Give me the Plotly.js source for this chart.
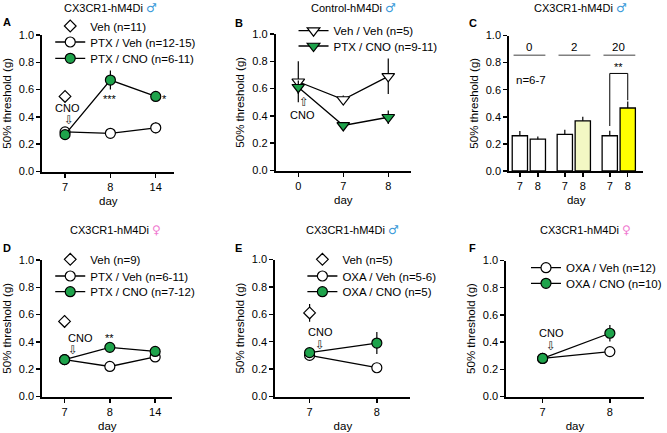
<!DOCTYPE html>
<html>
<head>
<meta charset="utf-8">
<script src="https://cdn.plot.ly/plotly-3.0.1.min.js"></script>
<style>html,body{margin:0;padding:0;background:#fff;}#chart{width:667px;height:433px;}</style>
</head>
<body>
<div id="chart"></div>
<script>
// ---------------- data ----------------
const daysA = ['7', '8', '14'];
const vehA = [0.55];            const vehAErr = [0.03];
const ptxVehA = [0.29, 0.28, 0.32]; const ptxVehAErr = [0.02, 0.02, 0.04];
const ptxCnoA = [0.27, 0.67, 0.55]; const ptxCnoAErr = [0.02, 0.07, 0.02];

const daysB = ['0', '7', '8'];
const vehVehB = [0.65, 0.52, 0.69]; const vehVehBErr = [0.15, 0.03, 0.13];
const ptxCnoB = [0.61, 0.33, 0.39]; const ptxCnoBErr = [0.05, 0.02, 0.05];

const dosesC = ['0', '2', '20'];
const daysC = ['7', '8'];
const day7C = [0.26, 0.27, 0.26];   const day7CErr = [0.035, 0.035, 0.037];
const day8C = [0.235, 0.37, 0.465]; const day8CErr = [0.02, 0.03, 0.047];

const daysD = ['7', '8', '14'];
const vehD = [0.55];            const vehDErr = [0.045];
const ptxVehD = [0.27, 0.22, 0.29]; const ptxVehDErr = [0.02, 0.02, 0.02];
const ptxCnoD = [0.27, 0.36, 0.33]; const ptxCnoDErr = [0.02, 0.025, 0.02];

const daysE = ['7', '8'];
const vehE = [0.61];            const vehEErr = [0.065];
const oxaVehE = [0.30, 0.21];   const oxaVehEErr = [0.03, 0.02];
const oxaCnoE = [0.32, 0.39];   const oxaCnoEErr = [0.03, 0.08];

const daysF = ['7', '8'];
const oxaVehF = [0.28, 0.33];   const oxaVehFErr = [0.02, 0.02];
const oxaCnoF = [0.28, 0.465];  const oxaCnoFErr = [0.02, 0.06];

const yTicks = [0, 0.2, 0.4, 0.6, 0.8, 1.0];

// ---------------- style ----------------
const W = 667, H = 433;
const FONT = 'Liberation Sans, Arial, DejaVu Sans, sans-serif';
const SYMFONT = 'DejaVu Sans';
const GREEN = '#1ea34b';
const MALE = '<span style="color:#3a9ad9;font-family:DejaVu Sans;font-size:12px">\u2642</span>';
const FEMALE = '<span style="color:#f07ad0;font-family:DejaVu Sans;font-size:12px">\u2640</span>';

function xd(l, r) { return [l / W, r / W]; }
function yd(t, b) { return [1 - b / H, 1 - t / H]; }

function errY(arr) {
  return {type: 'data', array: arr, visible: true, color: '#000', thickness: 1.2, width: 0};
}

function pt(x, y, err, name, symbol, fill, xa, ya, leg, mode, size) {
  return {
    type: 'scatter', mode: mode, x: x, y: y, name: name,
    xaxis: xa, yaxis: ya, legend: leg, showlegend: true,
    error_y: errY(err),
    line: {color: '#000', width: 1.3},
    marker: {symbol: symbol, size: size, color: fill, line: {color: '#000', width: 1.2}},
    cliponaxis: false
  };
}

const traces = [];
// A
traces.push(pt(daysA.slice(0, 1), vehA, vehAErr, 'Veh (n=11)', 'diamond', '#fff', 'x', 'y', 'legend', 'markers', 9));
traces.push(pt(daysA, ptxVehA, ptxVehAErr, 'PTX / Veh (n=12-15)', 'circle', '#fff', 'x', 'y', 'legend2', 'lines+markers', 10));
traces.push(pt(daysA, ptxCnoA, ptxCnoAErr, 'PTX / CNO (n=6-11)', 'circle', GREEN, 'x', 'y', 'legend3', 'lines+markers', 10));
// B
traces.push(pt(daysB, vehVehB, vehVehBErr, 'Veh / Veh (n=5)', 'triangle-down', '#fff', 'x2', 'y2', 'legend4', 'lines+markers', 11));
traces.push(pt(daysB, ptxCnoB, ptxCnoBErr, 'PTX / CNO (n=9-11)', 'triangle-down', GREEN, 'x2', 'y2', 'legend5', 'lines+markers', 11));
// C bars
const posC7 = dosesC.map((d, g) => g * 2.5);
const posC8 = dosesC.map((d, g) => g * 2.5 + 1);
const zerosC = dosesC.map(() => 0);
traces.push({
  type: 'bar', x: posC7, y: day7C, xaxis: 'x3', yaxis: 'y3', width: 0.85, showlegend: false,
  name: 'day ' + daysC[0],
  marker: {color: ['#ffffff', '#ffffff', '#ffffff'], line: {color: '#000', width: 1.3}},
  error_y: {type: 'data', array: day7CErr, arrayminus: zerosC, symmetric: false, visible: true, color: '#000', thickness: 1.2, width: 0}
});
traces.push({
  type: 'bar', x: posC8, y: day8C, xaxis: 'x3', yaxis: 'y3', width: 0.85, showlegend: false,
  name: 'day ' + daysC[1],
  marker: {color: ['#ffffff', '#f3f8c4', '#ffff00'], line: {color: '#000', width: 1.3}},
  error_y: {type: 'data', array: day8CErr, arrayminus: zerosC, symmetric: false, visible: true, color: '#000', thickness: 1.2, width: 0}
});
// D
traces.push(pt(daysD.slice(0, 1), vehD, vehDErr, 'Veh (n=9)', 'diamond', '#fff', 'x4', 'y4', 'legend6', 'markers', 9));
traces.push(pt(daysD, ptxVehD, ptxVehDErr, 'PTX / Veh (n=6-11)', 'circle', '#fff', 'x4', 'y4', 'legend7', 'lines+markers', 10));
traces.push(pt(daysD, ptxCnoD, ptxCnoDErr, 'PTX / CNO (n=7-12)', 'circle', GREEN, 'x4', 'y4', 'legend8', 'lines+markers', 10));
// E
traces.push(pt(daysE.slice(0, 1), vehE, vehEErr, 'Veh (n=5)', 'diamond', '#fff', 'x5', 'y5', 'legend9', 'markers', 9));
traces.push(pt(daysE, oxaVehE, oxaVehEErr, 'OXA / Veh (n=5-6)', 'circle', '#fff', 'x5', 'y5', 'legend10', 'lines+markers', 10));
traces.push(pt(daysE, oxaCnoE, oxaCnoEErr, 'OXA / CNO (n=5)', 'circle', GREEN, 'x5', 'y5', 'legend11', 'lines+markers', 10));
// F
traces.push(pt(daysF, oxaVehF, oxaVehFErr, 'OXA / Veh (n=12)', 'circle', '#fff', 'x6', 'y6', 'legend12', 'lines+markers', 10));
traces.push(pt(daysF, oxaCnoF, oxaCnoFErr, 'OXA / CNO (n=10)', 'circle', GREEN, 'x6', 'y6', 'legend13', 'lines+markers', 10));

// ---------------- axes ----------------
function baseAxis() {
  return {
    showline: true, linecolor: '#000', linewidth: 2, mirror: false,
    ticks: 'outside', ticklen: 4, tickwidth: 1.5, tickcolor: '#000',
    showgrid: false, zeroline: false, fixedrange: true,
    tickfont: {family: FONT, size: 11, color: '#000'}
  };
}
function yAxis(dom, anchor) {
  return Object.assign(baseAxis(), {
    domain: dom, anchor: anchor, range: [0, 1], tickvals: yTicks, tickformat: '.1f',
    title: {text: '50% threshold (g)', font: {family: FONT, size: 11.5, color: '#000'}, standoff: 5}
  });
}
function xCat(dom, anchor, range) {
  return Object.assign(baseAxis(), {
    domain: dom, anchor: anchor, type: 'category', range: range,
    title: {text: 'day', font: {family: FONT, size: 11.5, color: '#000'}, standoff: 5}
  });
}

const layout = {
  width: W, height: H, margin: {l: 0, r: 0, t: 0, b: 0},
  paper_bgcolor: '#fff', plot_bgcolor: 'rgba(0,0,0,0)',
  font: {family: FONT, size: 11, color: '#000'},
  showlegend: true, bargap: 0,
  xaxis: xCat(xd(43, 177), 'y', [-0.5, 2.41]),
  yaxis: yAxis(yd(35, 171.5), 'x'),
  xaxis2: xCat(xd(280, 417), 'y2', [-0.5, 2.5]),
  yaxis2: yAxis(yd(34, 170.5), 'x2'),
  xaxis3: Object.assign(baseAxis(), {
    domain: xd(517, 653), anchor: 'y3', range: [-0.59, 6.86],
    tickvals: posC7.map((p, i) => [p, posC8[i]]).flat(),
    ticktext: dosesC.map(() => daysC).flat(),
    title: {text: 'day', font: {family: FONT, size: 11.5, color: '#000'}, standoff: 5}
  }),
  yaxis3: yAxis(yd(35.5, 171), 'x3'),
  xaxis4: xCat(xd(43, 175), 'y4', [-0.49, 2.38]),
  yaxis4: yAxis(yd(260, 396.5), 'x4'),
  xaxis5: xCat(xd(279.5, 416.7), 'y5', [-0.51, 1.5]),
  yaxis5: yAxis(yd(259.5, 396.5), 'x5'),
  xaxis6: xCat(xd(514, 653.3), 'y6', [-0.54, 1.5]),
  yaxis6: yAxis(yd(260.5, 396.5), 'x6'),
  annotations: [],
  shapes: []
};

// legends (one per entry so spacing matches)
function legendAt(lpx, cy) {
  return {x: lpx / W, y: 1 - cy / H, xanchor: 'left', yanchor: 'middle',
    bgcolor: 'rgba(0,0,0,0)', borderwidth: 0, itemwidth: 30, tracegroupgap: 0,
    font: {family: FONT, size: 11.5, color: '#000'}};
}
const legPos = [[51, 26], [51, 42], [51, 58.3], [298, 30.7], [298, 46],
  [51, 259.3], [51, 276], [51, 291.7], [307, 259.3], [307, 276], [307, 291.7],
  [534, 267.7], [534, 283.3]];
legPos.forEach((p, i) => { layout[i === 0 ? 'legend' : 'legend' + (i + 1)] = legendAt(p[0], p[1]); });

// panel titles and letters
function paperText(text, xpx, ypx, size, bold, anchor) {
  return {xref: 'paper', yref: 'paper', x: xpx / W, y: 1 - ypx / H, text: bold ? '<b>' + text + '</b>' : text,
    showarrow: false, xanchor: anchor || 'center', yanchor: 'middle',
    font: {family: FONT, size: size, color: '#000'}};
}
layout.annotations.push(
  paperText('CX3CR1-hM4Di ' + MALE, 112.5, 7.5, 11),
  paperText('Control-hM4Di ' + MALE, 359, 7.5, 11),
  paperText('CX3CR1-hM4Di ' + MALE, 589, 7.5, 11),
  paperText('CX3CR1-hM4Di ' + FEMALE, 117.5, 230, 11),
  paperText('CX3CR1-hM4Di ' + MALE, 358, 230, 11),
  paperText('CX3CR1-hM4Di ' + FEMALE, 594, 230, 11),
  paperText('A', 1, 22, 11, true, 'left'),
  paperText('B', 237, 23, 11, true, 'left'),
  paperText('C', 474, 23, 11, true, 'left'),
  paperText('D', 1, 248.5, 11, true, 'left'),
  paperText('E', 237, 248.5, 11, true, 'left'),
  paperText('F', 474, 248.5, 11, true, 'left')
);

function dataText(text, xa, ya, x, y, size, anchor, fam, color) {
  return {xref: xa, yref: ya, x: x, y: y, text: text, showarrow: false,
    xanchor: anchor || 'center', yanchor: 'middle', font: {family: fam || FONT, size: size || 11, color: color || '#000'}};
}
// CNO markers
const DOWN = '\u21e9', UP = '\u21e7';
layout.annotations.push(
  dataText('CNO', 'x', 'y', 0.05, 0.465, 11), dataText(DOWN, 'x', 'y', 0.09, 0.375, 12, null, SYMFONT, '#222'),
  dataText(UP, 'x2', 'y2', 0.12, 0.50, 12, null, SYMFONT, '#222'), dataText('CNO', 'x2', 'y2', 0.1, 0.41, 11),
  dataText('CNO', 'x4', 'y4', 0.35, 0.43, 11), dataText(DOWN, 'x4', 'y4', 0.18, 0.34, 12, null, SYMFONT, '#222'),
  dataText('CNO', 'x5', 'y5', 0.16, 0.472, 11), dataText(DOWN, 'x5', 'y5', 0.16, 0.375, 12, null, SYMFONT, '#222'),
  dataText('CNO', 'x6', 'y6', 0.13, 0.47, 11), dataText(DOWN, 'x6', 'y6', 0.12, 0.375, 12, null, SYMFONT, '#222')
);
// significance
layout.annotations.push(
  dataText('***', 'x', 'y', 1, 0.53, 11),
  dataText('*', 'x', 'y', 2.19, 0.53, 11),
  dataText('**', 'x4', 'y4', 1, 0.425, 11),
  dataText('**', 'x3', 'y3', (posC7[2] + posC8[2]) / 2, 0.765, 11)
);
// panel C decorations
layout.annotations.push(dataText('CNO dose (nmol, i.t.)', 'x3', 'y3', 3.0, 1.058, 11.5));
layout.annotations.push(dataText('n=6-7', 'x3', 'y3', -0.3, 0.675, 11.5, 'left'));
dosesC.forEach((d, g) => {
  layout.annotations.push(dataText(d, 'x3', 'y3', (posC7[g] + posC8[g]) / 2, 0.915, 11.5));
  layout.shapes.push({type: 'line', xref: 'x3', yref: 'y3', x0: posC7[g] - 0.35, x1: posC8[g] + 0.42,
    y0: 0.855, y1: 0.855, line: {color: '#808080', width: 1.5}});
});
const brTop = 0.72;
const brL = day7C[2] + day7CErr[2] + 0.035;
const brR = day8C[2] + day8CErr[2] + 0.01;
layout.shapes.push({type: 'path', xref: 'x3', yref: 'y3',
  path: 'M' + posC7[2] + ',' + brL + ' L' + posC7[2] + ',' + brTop + ' L' + posC8[2] + ',' + brTop + ' L' + posC8[2] + ',' + brR,
  line: {color: '#000', width: 1}});

Plotly.newPlot('chart', traces, layout, {staticPlot: true, displayModeBar: false});
</script>
</body>
</html>
